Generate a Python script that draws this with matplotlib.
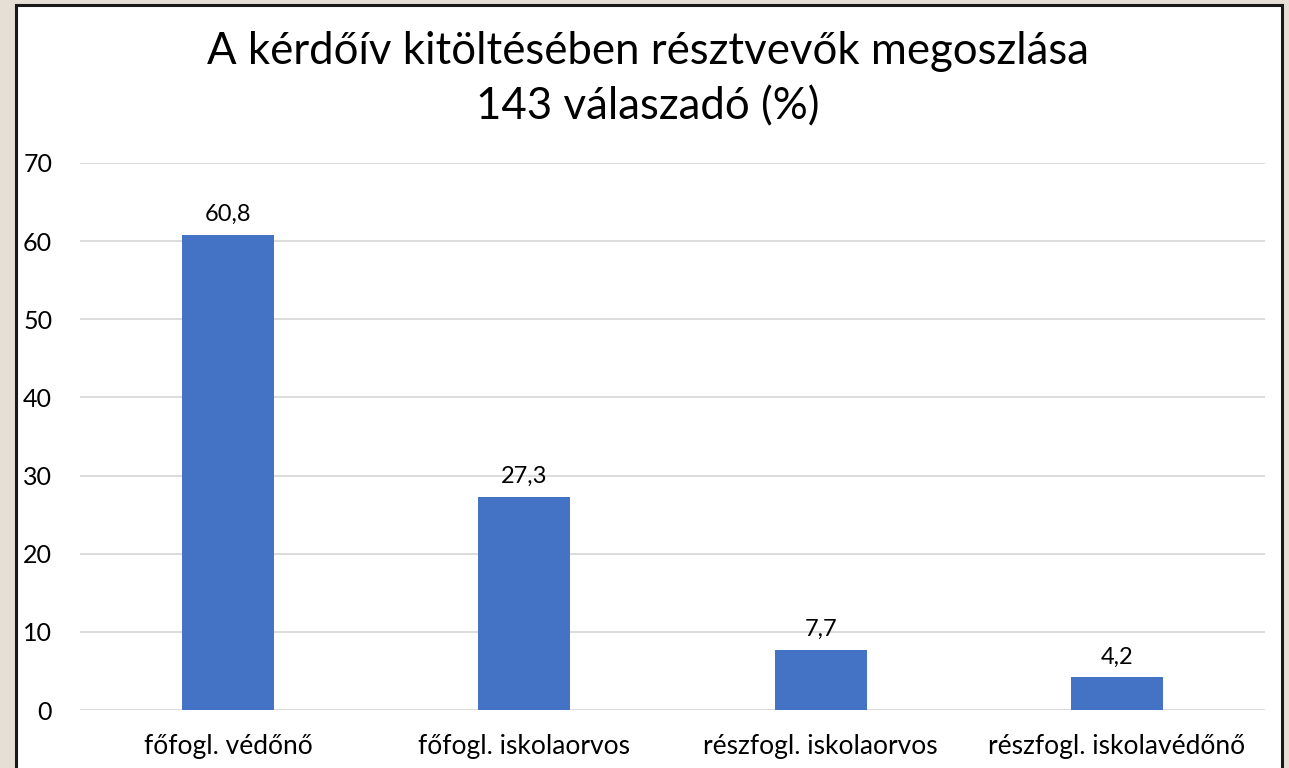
import matplotlib.pyplot as plt
from matplotlib.patches import Rectangle

categories = ['főfogl. védőnő', 'főfogl. iskolaorvos', 'részfogl. iskolaorvos', 'részfogl. iskolavédőnő']
values = [60.8, 27.3, 7.7, 4.2]
labels = ['60,8', '27,3', '7,7', '4,2']
title_lines = ['A kérdőív kitöltésében résztvevők megoszlása', '143 válaszadó (%)']

plt.rcParams['font.family'] = ['Lato', 'DejaVu Sans']

W, H = 1289, 768
fig = plt.figure(figsize=(W / 100, H / 100), dpi=100, facecolor='#E5DFD6')

# white panel with dark frame, kept behind the axes
fig.patches.append(Rectangle((15.5 / W, -0.05), (1282 - 15.5) / W, 1.05 - 5.5 / H,
                             transform=fig.transFigure, facecolor='white',
                             edgecolor='#1a1a1a', linewidth=2.2, zorder=-10))

ax = fig.add_axes([80 / W, 1 - 710 / H, (1265 - 80) / W, (710 - 163) / H])
ax.set_facecolor('none')
ax.set_zorder(1)

x = range(len(categories))
bars = ax.bar(x, values, width=0.31, color='#4472C4', zorder=3)
for b, lab in zip(bars, labels):
    ax.annotate(lab, (b.get_x() + b.get_width() / 2, b.get_height()),
                xytext=(0, 7), textcoords='offset points', ha='center', va='bottom',
                fontsize=17, color='black')

ax.set_xlim(-0.5, len(categories) - 0.5)
ax.set_ylim(0, 70)
ax.set_yticks(range(0, 71, 10))
ax.set_xticks(list(x))
ax.set_xticklabels(categories)
ax.tick_params(axis='x', length=0, labelsize=19, colors='black', pad=17)
ax.tick_params(axis='y', length=0, labelsize=18, colors='black', pad=20)
ax.grid(axis='y', color='#D9D9D9', linewidth=1.3, zorder=0)
for s in ax.spines.values():
    s.set_visible(False)

fig.text(648 / W, 1 - 52 / H, title_lines[0], ha='center', va='center', fontsize=31.5, color='black')
fig.text(648 / W, 1 - 107 / H, title_lines[1], ha='center', va='center', fontsize=31.5, color='black')

fig.savefig('out.png', dpi=100, facecolor=fig.get_facecolor())
